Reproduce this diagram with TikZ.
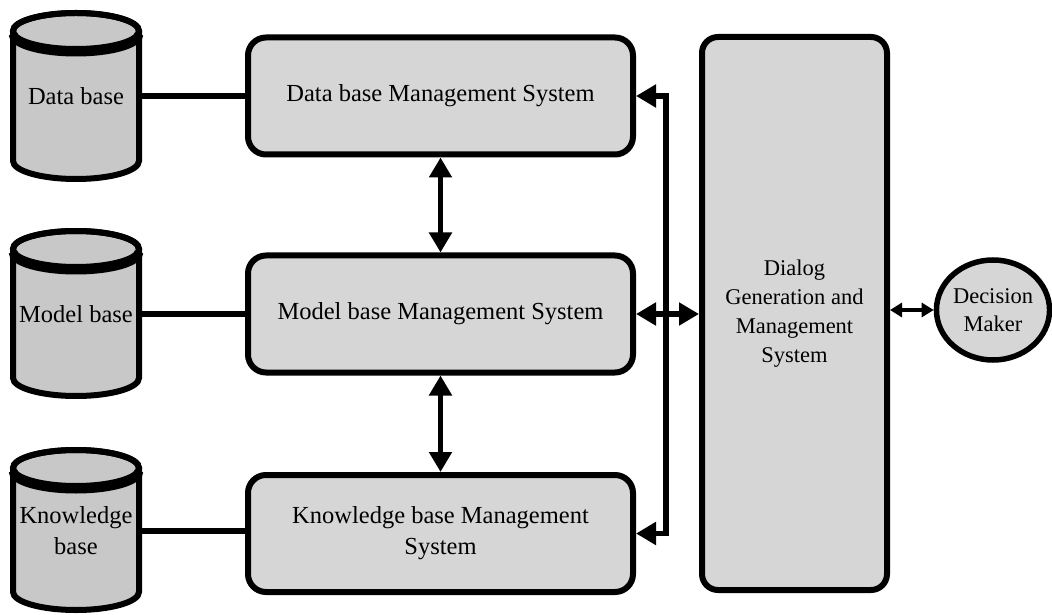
\documentclass[tikz,border=0pt]{standalone}
\usepackage{fontspec}
\setmainfont{Liberation Serif}
\usetikzlibrary{shapes.geometric,arrows.meta}
\definecolor{boxgray}{RGB}{214,214,214}
\definecolor{cylgray}{RGB}{200,200,200}
\tikzset{
  mgmt/.style={draw, line width=6pt, rounded corners=18pt, fill=boxgray,
    minimum width=385pt, minimum height=117pt, align=center,
    font=\fontsize{24.5}{31}\selectfont},
  cyltext/.style={minimum width=125pt, inner sep=0pt, align=center,
    font=\fontsize{24.5}{31}\selectfont},
  cylline/.style={line width=6pt},
  link/.style={line width=5.5pt},
  dbl/.style={line width=5.5pt, {Triangle[length=20pt,width=22pt]}-{Triangle[length=20pt,width=22pt]}},
  thin dbl/.style={line width=3.5pt, {Triangle[length=12pt,width=14pt]}-{Triangle[length=12pt,width=14pt]}}
}
% storage drum: centre x, top-ellipse y, bottom-ellipse y
\newcommand\drum[3]{%
  \filldraw[cylline, fill=cylgray] (#1-63,#2) -- (#1-63,#3)
    arc[start angle=180, end angle=360, x radius=63pt, y radius=18pt]
    -- (#1+63,#2)
    arc[start angle=0, end angle=180, x radius=63pt, y radius=18pt] -- cycle;
  \draw[cylline] (#1,#2) ellipse[x radius=63pt, y radius=18pt];
  \draw[line width=9pt] (#1-63,#2-3)
    arc[start angle=180, end angle=360, x radius=63pt, y radius=18pt];
}
\begin{document}
\begin{tikzpicture}[x=1pt, y=1pt]
\useasboundingbox (0,0) rectangle (1052,614);

% storage drums
\drum{76}{583}{453}
\drum{76}{365}{236}
\drum{76}{146}{22}
\node[cyltext] (db) at (76,518) {Data base};
\node[cyltext] (mb) at (76,300) {Model base};
\node[cyltext] (kb) at (76,83) {Knowledge\\base};

% management systems
\node[mgmt] (dbms) at (440.5,518) {Data base Management System};
\node[mgmt] (mbms) at (440.5,300) {Model base Management System};
\node[mgmt] (kbms) at (440.5,80.5) {Knowledge base Management\\System};

% dialog component and user
\node[draw, line width=6pt, rounded corners=16pt, fill=boxgray,
      minimum width=185pt, minimum height=553pt, align=center,
      font=\fontsize{22.5}{29}\selectfont] (dialog) at (794.5,300.5)
      {Dialog\\Generation and\\Management\\System};
\node[ellipse, draw, line width=5.5pt, fill=boxgray,
      minimum width=110pt, minimum height=100pt, inner sep=0pt, align=center,
      font=\fontsize{22.5}{28}\selectfont] (dm) at (993,304)
      {Decision\\Maker};

% drums to their management systems
\draw[link] (db.east) -- (db.east -| dbms.west);
\draw[link] (mb.east) -- (mb.east -| mbms.west);
\draw[link] (kb.east) -- (kb.east -| kbms.west);

% between the management systems
\draw[dbl] (dbms.south) -- (mbms.north);
\draw[dbl] (mbms.south) -- (kbms.north);

% bus joining the outer systems
\coordinate (bus) at (666,0);
\draw[dbl] (dbms.east) -- (dbms.east -| bus) |- (kbms.east);
\draw[dbl] (mbms.east) -- (mbms.east -| dialog.west);

% dialog to decision maker
\draw[thin dbl] (dm.west -| dialog.east) -- (dm.west);
\end{tikzpicture}
\end{document}
